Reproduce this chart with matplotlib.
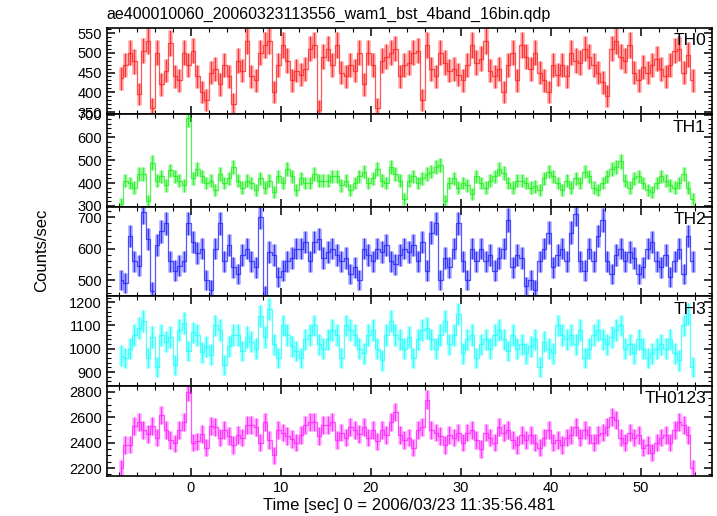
import numpy as np
import matplotlib
matplotlib.use("Agg")
import matplotlib.pyplot as plt
from matplotlib.ticker import MultipleLocator

plt.rcParams['font.family'] = ['Liberation Sans', 'DejaVu Sans']

# light curve, 0.5 s bins starting at t = -8 s
t_start = -8.0
bin_width = 0.5

th0 = [435, 470, 500, 478, 395, 505, 530, 360, 500, 420, 455, 525, 440, 430, 500, 470,
       505, 440, 400, 380, 450, 460, 420, 470, 440, 370, 480, 455, 530, 440, 430, 500,
       520, 530, 400, 470, 520, 480, 430, 455, 445, 460, 510, 520, 355, 490, 510, 470,
       520, 450, 440, 470, 455, 500, 420, 500, 470, 360, 480, 490, 500, 510, 440, 470,
       475, 500, 505, 380, 520, 460, 440, 500, 475, 455, 460, 445, 430, 470, 520, 475,
       485, 530, 455, 440, 460, 400, 470, 500, 430, 520, 490, 460, 500, 450, 430, 400,
       470, 445, 470, 440, 500, 480, 475, 510, 490, 470, 450, 425, 390, 510, 530, 490,
       480, 520, 450, 430, 465, 450, 470, 485, 460, 440, 470, 505, 510, 450, 495, 430]

th1 = [310, 410, 400, 380, 440, 440, 320, 490, 410, 430, 390, 455, 430, 410, 390, 685,
       420, 460, 430, 400, 410, 370, 440, 400, 420, 470, 410, 380, 410, 400, 370, 420,
       380, 410, 360, 430, 400, 460, 430, 370, 420, 400, 400, 440, 410, 410, 410, 430,
       430, 390, 410, 370, 400, 430, 450, 400, 420, 460, 410, 400, 470, 440, 410, 330,
       410, 430, 400, 420, 440, 450, 470, 480, 320, 400, 420, 380, 400, 390, 350, 430,
       400, 380, 410, 430, 460, 445, 400, 380, 410, 410, 400, 380, 385, 370, 420, 450,
       430, 400, 370, 410, 380, 420, 400, 450, 430, 380, 370, 400, 430, 460, 470, 495,
       410, 380, 420, 430, 400, 370, 360, 400, 430, 410, 390, 380, 400, 440, 380, 330]

th2 = [500, 490, 640, 560, 545, 715, 630, 465, 610, 655, 680, 560, 530, 545, 560, 680,
       620, 585, 600, 500, 470, 600, 680, 560, 610, 540, 520, 580, 600, 560, 540, 700,
       450, 590, 580, 510, 530, 560, 570, 600, 600, 620, 560, 620, 630, 570, 590, 600,
       580, 560, 570, 520, 540, 500, 600, 580, 560, 600, 590, 610, 560, 550, 580, 600,
       590, 610, 560, 620, 530, 650, 680, 500, 570, 540, 600, 680, 560, 500, 600, 560,
       600, 560, 580, 530, 570, 600, 690, 540, 580, 570, 480, 500, 470, 560, 600, 650,
       540, 580, 600, 560, 650, 710, 560, 530, 600, 560, 640, 690, 560, 520, 580, 600,
       560, 590, 570, 520, 540, 600, 620, 560, 540, 580, 510, 560, 600, 520, 640, 560]

th3 = [970, 960, 1000, 1060, 1090, 1120, 960, 1050, 920, 1060, 1030, 1050, 930, 1080, 1110, 990,
       1070, 1060, 985, 1010, 975, 1100, 1080, 930, 1010, 1060, 1060, 990, 1050, 1030, 1000, 1140,
       1050, 1170, 1020, 960, 1100, 1060, 1010, 990, 960, 1040, 1060, 1100, 1020, 1000, 1040, 1080,
       1060, 960, 1100, 1080, 1060, 1000, 980, 1060, 1080, 1000, 950, 1060, 1120, 1060, 1040, 1000,
       1050, 960, 1040, 1080, 1090, 1040, 1000, 1060, 1120, 1020, 1060, 1150, 980, 1040, 1060, 960,
       1020, 1040, 1000, 1060, 1080, 1040, 990, 1060, 1000, 1020, 980, 1010, 1040, 920, 1030, 1000,
       980, 1100, 1060, 1040, 1060, 1020, 1080, 960, 1000, 1060, 1080, 1040, 1020, 1050, 1080, 1100,
       1000, 1020, 980, 1040, 1000, 960, 980, 1000, 1020, 1000, 1040, 980, 950, 1100, 1150, 920]

th0123 = [2200, 2380, 2385, 2530, 2560, 2500, 2470, 2530, 2440, 2620, 2500, 2420, 2395, 2500, 2560, 2800,
          2400, 2410, 2470, 2360, 2530, 2520, 2440, 2500, 2450, 2380, 2460, 2440, 2540, 2540, 2520, 2400,
          2560, 2420, 2300, 2500, 2480, 2450, 2430, 2400, 2460, 2540, 2560, 2560, 2450, 2540, 2540, 2560,
          2420, 2480, 2440, 2520, 2500, 2470, 2520, 2440, 2500, 2410, 2500, 2460, 2560, 2640, 2460, 2420,
          2440, 2360, 2500, 2520, 2740, 2500, 2480, 2450, 2380, 2460, 2440, 2480, 2400, 2480, 2500, 2420,
          2350, 2480, 2440, 2400, 2520, 2480, 2500, 2420, 2380, 2460, 2420, 2460, 2400, 2360, 2440, 2500,
          2400, 2420, 2380, 2440, 2460, 2520, 2440, 2500, 2460, 2400, 2460, 2480, 2520, 2600, 2580, 2440,
          2400, 2480, 2440, 2460, 2360, 2380, 2320, 2400, 2440, 2460, 2400, 2500, 2560, 2540, 2460, 2200]

names = ["TH0", "TH1", "TH2", "TH3", "TH0123"]
series = [th0, th1, th2, th3, th0123]
colors = ["#ff2020", "#20f020", "#2020ff", "#20ffff", "#ff20ff"]
ylims = [(345, 563), (295, 703), (449, 732), (840, 1226), (2137, 2847)]
ymajor = [50, 100, 100, 100, 200]
yminor = [10, 20, 20, 20, 50]

# panel edges in figure coords (top to bottom)
edges = [0.946, 0.779, 0.599, 0.426, 0.252, 0.0775]
left, right = 0.149, 0.993

fig = plt.figure(figsize=(7.17, 5.16), dpi=100)

axes = []
for i in range(5):
    ax = fig.add_axes([left, edges[i + 1], right - left, edges[i] - edges[i + 1]])
    vals = np.array(series[i], dtype=float)
    t = t_start + bin_width * (np.arange(len(vals)) + 0.5)
    err = np.sqrt(vals * bin_width) / bin_width  # poisson error of counts in bin
    # wide pale bars + thin strong bars + step line, qdp style
    ax.errorbar(t, vals, yerr=err, fmt='none', ecolor=colors[i],
                elinewidth=3.4, alpha=0.35)
    ax.errorbar(t, vals, yerr=err, fmt='none', ecolor=colors[i],
                elinewidth=1.0, alpha=0.85)
    ax.step(t, vals, where='mid', color=colors[i], lw=0.9, alpha=0.75)
    ax.set_xlim(-9.3, 57.9)
    ax.set_ylim(*ylims[i])
    ax.xaxis.set_major_locator(MultipleLocator(10))
    ax.xaxis.set_minor_locator(MultipleLocator(2))
    ax.yaxis.set_major_locator(MultipleLocator(ymajor[i]))
    ax.yaxis.set_minor_locator(MultipleLocator(yminor[i]))
    ax.tick_params(which='both', direction='in', top=True, right=True, labelsize=10.5)
    ax.tick_params(which='major', length=6, width=1.1)
    ax.tick_params(which='minor', length=3, width=0.8)
    for sp in ax.spines.values():
        sp.set_linewidth(1.2)
    ax.text(0.99, 0.94, names[i], transform=ax.transAxes, ha='right', va='top', fontsize=12.5)
    if i < 4:
        ax.tick_params(labelbottom=False)
    axes.append(ax)

axes[-1].set_xlabel("Time [sec] 0 = 2006/03/23 11:35:56.481", fontsize=12, labelpad=2)
fig.text(0.149, 0.972, "ae400010060_20060323113556_wam1_bst_4band_16bin.qdp",
         ha='left', va='center', fontsize=11.5)
fig.text(0.058, 0.515, "Counts/sec", rotation=90, ha='center', va='center', fontsize=12)

plt.savefig("out.png", dpi=100)
